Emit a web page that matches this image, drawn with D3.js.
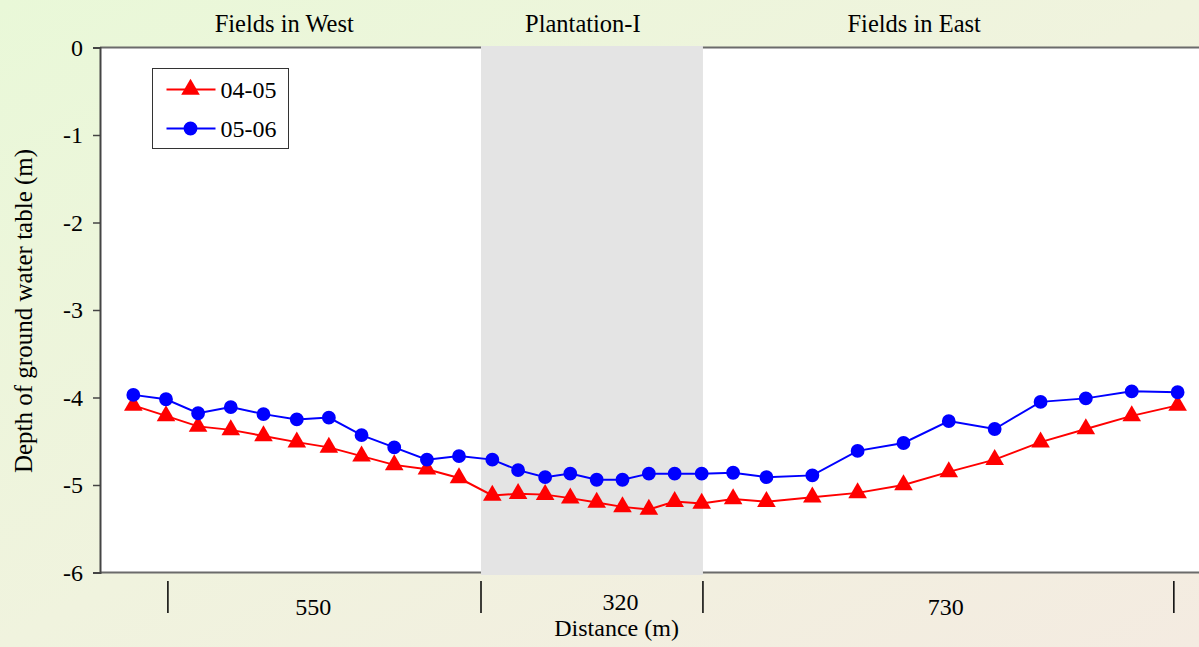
<!DOCTYPE html>
<html>
<head>
<meta charset="utf-8">
<script src="https://cdn.jsdelivr.net/npm/d3@7"></script>
<style>
  html, body { margin: 0; padding: 0; }
  svg { display: block; font-family: "Liberation Serif", "Times New Roman", serif; }
</style>
</head>
<body>
<svg id="chart" width="1199" height="647"></svg>
<script>
// Station chainage along the transect (m), measured from the west field boundary
const stations = [-55, -3, 48, 100, 152, 205, 256, 308, 360, 412, 463,
  516, 557, 600, 640, 682, 723, 765, 806, 849,
  899, 952, 1025, 1097, 1170, 1242, 1315, 1388, 1460, 1533, 1606];

// Depth of ground water table (m), season 2004-05
const depth0405 = [-4.09, -4.21, -4.33, -4.37, -4.44, -4.51, -4.57, -4.67, -4.77, -4.82, -4.92,
  -5.12, -5.10, -5.11, -5.15, -5.20, -5.25, -5.28, -5.19, -5.21,
  -5.16, -5.19, -5.14, -5.09, -5.00, -4.85, -4.71, -4.51, -4.36, -4.21, -4.09];

// Depth of ground water table (m), season 2005-06
const depth0506 = [-3.97, -4.02, -4.18, -4.11, -4.19, -4.25, -4.23, -4.43, -4.57, -4.71, -4.67,
  -4.71, -4.83, -4.91, -4.87, -4.94, -4.94, -4.87, -4.87, -4.87,
  -4.86, -4.91, -4.89, -4.61, -4.52, -4.27, -4.36, -4.05, -4.01, -3.93, -3.94];

// Zone boundaries along the transect (m) and zone descriptions
const zoneEdges = [0, 498, 851, 1600];
const zoneNames = ["Fields in West", "Plantation-I", "Fields in East"];
const zoneNameAt = [185, 660, 1187];
const zoneLengths = ["550", "320", "730"];
const zoneLengthAt = [231, 720, 1237];

const yTicks = [0, -1, -2, -3, -4, -5, -6];
const seriesNames = ["04-05", "05-06"];

const W = 1199, H = 647;
const plot = { left: 100, right: 1199, top: 47.5, bottom: 572.5 };

const svg = d3.select("#chart");

// soft diagonal background wash
const defs = svg.append("defs");
const grad = defs.append("linearGradient").attr("id", "bg")
  .attr("x1", "0").attr("y1", "0").attr("x2", "1").attr("y2", "1");
grad.append("stop").attr("offset", "0").attr("stop-color", "#e9f8d8");
grad.append("stop").attr("offset", "0.5").attr("stop-color", "#f0f3de");
grad.append("stop").attr("offset", "1").attr("stop-color", "#f4ebe1");
svg.append("rect").attr("width", W).attr("height", H).attr("fill", "url(#bg)");

const x = d3.scaleLinear().domain([-108, 1640]).range([plot.left, plot.right]);
const y = d3.scaleLinear().domain([-6, 0]).range([plot.bottom, plot.top]);

// plot panel
svg.append("rect")
  .attr("x", plot.left).attr("y", plot.top)
  .attr("width", plot.right - plot.left).attr("height", plot.bottom - plot.top)
  .attr("fill", "#fff");

// top frame line
svg.append("line")
  .attr("x1", plot.left).attr("x2", plot.right)
  .attr("y1", plot.top).attr("y2", plot.top)
  .attr("stroke", "#6b6b6b").attr("stroke-width", 2);

// bottom axis line
svg.append("line")
  .attr("x1", plot.left).attr("x2", plot.right)
  .attr("y1", plot.bottom).attr("y2", plot.bottom)
  .attr("stroke", "#6b6b6b").attr("stroke-width", 2);

// plantation strip
svg.append("rect")
  .attr("x", x(zoneEdges[1])).attr("y", plot.top - 1.5)
  .attr("width", x(zoneEdges[2]) - x(zoneEdges[1]))
  .attr("height", plot.bottom - plot.top + 4)
  .attr("fill", "#e4e4e4");

// y axis (plain hyphen for negative labels)
const yAxis = d3.axisLeft(y).tickValues(yTicks).tickFormat(d => String(d))
  .tickSize(7).tickPadding(10);
const gy = svg.append("g").attr("transform", `translate(${plot.left},0)`).call(yAxis);
gy.select(".domain").attr("stroke", "#444").attr("stroke-width", 2);
gy.selectAll(".tick line").attr("stroke", "#444").attr("stroke-width", 1.5);
gy.selectAll(".tick text")
  .attr("fill", "#000")
  .style("font-family", "'Liberation Serif', serif")
  .style("font-size", "24px");

svg.append("text")
  .attr("transform", `translate(32,${(plot.top + plot.bottom) / 2 + 1}) rotate(-90)`)
  .attr("text-anchor", "middle")
  .style("font-size", "25px")
  .text("Depth of ground water table (m)");

// zone boundary markers below the axis
svg.append("g").selectAll("line").data(zoneEdges).join("line")
  .attr("x1", d => x(d)).attr("x2", d => x(d))
  .attr("y1", 581).attr("y2", 613)
  .attr("stroke", "#000").attr("stroke-width", 1.5);

svg.append("g").selectAll("text").data(zoneLengths).join("text")
  .attr("x", (d, i) => x(zoneLengthAt[i]))
  .attr("y", (d, i) => i === 1 ? 610 : 615)
  .attr("text-anchor", "middle")
  .style("font-size", "24px")
  .text(d => d);

svg.append("text")
  .attr("x", x(zoneLengthAt[1]) - 4).attr("y", 636)
  .attr("text-anchor", "middle")
  .style("font-size", "24px")
  .text("Distance (m)");

// zone names above the panel
svg.append("g").selectAll("text").data(zoneNames).join("text")
  .attr("x", (d, i) => x(zoneNameAt[i])).attr("y", 32)
  .attr("text-anchor", "middle")
  .style("font-size", "24.5px")
  .text(d => d);

// series
const series = [
  { name: seriesNames[0], values: depth0405, color: "#ff0000", symbol: d3.symbolTriangle, size: 150 },
  { name: seriesNames[1], values: depth0506, color: "#0000ff", symbol: d3.symbolCircle, size: 150 }
];

const line = d3.line().x(d => x(d[0])).y(d => y(d[1]));

series.forEach(s => {
  const pts = stations.map((st, i) => [st, s.values[i]]);
  svg.append("path").datum(pts)
    .attr("d", line)
    .attr("fill", "none")
    .attr("stroke", s.color)
    .attr("stroke-width", 2);
  svg.append("g").selectAll("path").data(pts).join("path")
    .attr("transform", d => `translate(${x(d[0])},${y(d[1])})`)
    .attr("d", d3.symbol().type(s.symbol).size(s.size))
    .attr("fill", s.color);
});

// legend
const lg = svg.append("g").attr("transform", "translate(152.5,68.5)");
lg.append("rect").attr("width", 136).attr("height", 80)
  .attr("fill", "#fff").attr("stroke", "#333").attr("stroke-width", 1);
series.forEach((s, i) => {
  const row = lg.append("g").attr("transform", `translate(0,${21 + i * 39})`);
  row.append("line").attr("x1", 14).attr("x2", 63)
    .attr("stroke", s.color).attr("stroke-width", 2);
  row.append("path").attr("transform", "translate(38,0)")
    .attr("d", d3.symbol().type(s.symbol).size(s.size))
    .attr("fill", s.color);
  row.append("text").attr("x", 68).attr("y", 8)
    .style("font-size", "24px")
    .text(s.name);
});
</script>
</body>
</html>
